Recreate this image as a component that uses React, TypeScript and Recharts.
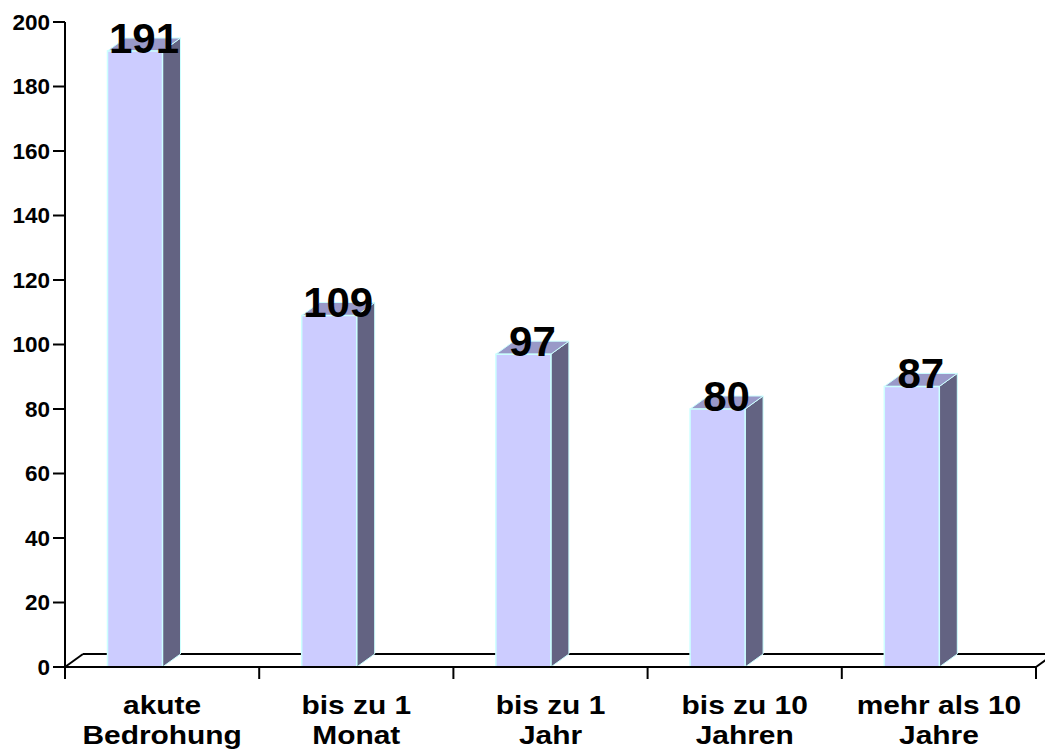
import React from 'react';
import { BarChart, Bar, XAxis, YAxis, ReferenceLine, LabelList } from 'recharts';

const categories = [
  'akute\nBedrohung',
  'bis zu 1\nMonat',
  'bis zu 1\nJahr',
  'bis zu 10\nJahren',
  'mehr als 10\nJahre',
];
const counts = [191, 109, 97, 80, 87];
const yTicks = [0, 20, 40, 60, 80, 100, 120, 140, 160, 180, 200];

const data = categories.map((name, i) => ({ name, value: counts[i] }));

// depth of the fake 3D extrusion
const DX = 18;
const DY = 13;
const FONT = '"Liberation Sans", Arial, sans-serif';

// front face sits left of the band centre, side + top faces give the depth
const Bar3D = (props: any) => {
  const { x, y, width, height } = props;
  const fx = x - width / 2;
  const bottom = y + height;
  const front = `M${fx},${y} H${fx + width} V${bottom} H${fx} Z`;
  const side = `M${fx + width},${y} l${DX},${-DY} V${bottom - DY} l${-DX},${DY} Z`;
  const top = `M${fx},${y} l${DX},${-DY} h${width} l${-DX},${DY} Z`;
  return (
    <g>
      <path d={side} fill="#636382" stroke="#ccffff" strokeWidth={1} />
      <path d={top} fill="#9999c8" stroke="#ccffff" strokeWidth={1} />
      <path d={front} fill="#ccccff" stroke="#ccffff" strokeWidth={1.5} />
    </g>
  );
};

const ValueLabel = (props: any) => {
  const { x, y, width, value } = props;
  const fx = x - width / 2;
  return (
    <text
      x={fx + (width + DX) / 2}
      y={y + 2}
      textAnchor="middle"
      fontFamily={FONT}
      fontWeight="bold"
      fontSize={42}
      fill="#000"
    >
      {value}
    </text>
  );
};

// back edge of the floor plus the two side diagonals
const Floor = (props: any) => {
  const { x1, y1, x2, y2 } = props;
  return (
    <g stroke="#000" strokeWidth={2} fill="none">
      <line x1={x1} y1={y1} x2={x1 + DX} y2={y1 - DY} />
      <line x1={x1 + DX} y1={y1 - DY} x2={x2 + DX} y2={y2 - DY} />
      <line x1={x2} y1={y2} x2={x2 + DX} y2={y2 - DY} />
    </g>
  );
};

// two-line category names, slightly widened; tick marks sit on band edges
const CategoryTick = (props: any) => {
  const { x, y, payload, index } = props;
  const half = payload.offset ?? 0;
  const lines = String(payload.value).split('\n');
  return (
    <g>
      <line x1={x - half} y1={y} x2={x - half} y2={y + 12} stroke="#000" strokeWidth={2} />
      {index === data.length - 1 && (
        <line x1={x + half} y1={y} x2={x + half} y2={y + 12} stroke="#000" strokeWidth={2} />
      )}
      <g transform={`translate(${x},0) scale(1.15,1)`}>
        {lines.map((line, i) => (
          <text
            key={i}
            x={0}
            y={y + 47 + i * 30}
            textAnchor="middle"
            fontFamily={FONT}
            fontWeight="bold"
            fontSize={26}
            fill="#000"
          >
            {line}
          </text>
        ))}
      </g>
    </g>
  );
};

export default function App() {
  return (
    <div style={{ position: 'absolute', left: 0, top: 0, background: '#fff' }}>
      <BarChart
        width={1045}
        height={755}
        data={data}
        margin={{ top: 22, right: 9, left: 0, bottom: 0 }}
      >
        <XAxis
          dataKey="name"
          height={88}
          interval={0}
          tickSize={0}
          tickMargin={0}
          tickLine={false}
          axisLine={{ stroke: '#000', strokeWidth: 2 }}
          tick={<CategoryTick />}
        />
        <YAxis
          width={65}
          domain={[0, 200]}
          ticks={yTicks}
          interval={0}
          tickSize={12}
          tickMargin={3}
          axisLine={{ stroke: '#000', strokeWidth: 2 }}
          tickLine={{ stroke: '#000', strokeWidth: 2 }}
          tick={{ fontFamily: FONT, fontWeight: 'bold', fontSize: 22.5, fill: '#000' }}
        />
        <ReferenceLine y={0} zIndex={-1} shape={<Floor />} />
        <Bar dataKey="value" barSize={55} shape={<Bar3D />} isAnimationActive={false}>
          <LabelList dataKey="value" content={<ValueLabel />} />
        </Bar>
      </BarChart>
    </div>
  );
}
